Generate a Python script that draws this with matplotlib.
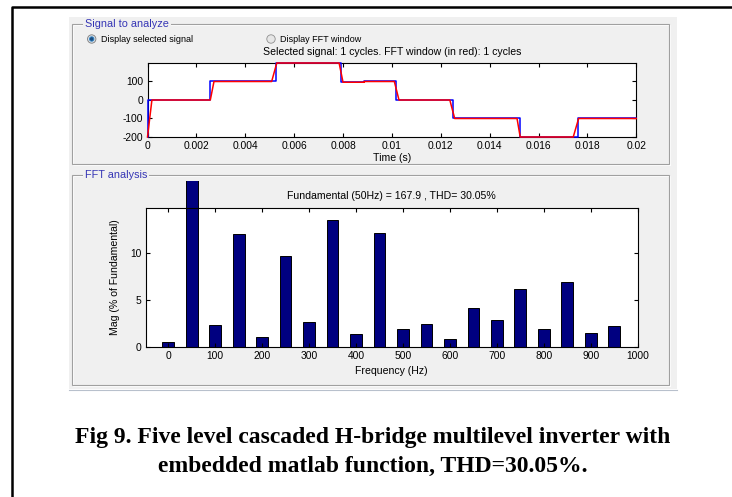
import numpy as np
import matplotlib.pyplot as plt
from matplotlib.patches import Rectangle, Circle
from matplotlib.lines import Line2D
from matplotlib.transforms import Affine2D

plt.rcParams['font.family'] = ['Liberation Sans', 'DejaVu Sans']
plt.rcParams['axes.unicode_minus'] = False

W, H = 732, 497

# Selected signal (blue, steps) and FFT window (red)
sig_t = [0, 0.00004, 0.00257, 0.00526, 0.00791, 0.00887, 0.01016, 0.01251, 0.01525, 0.0176, 0.02]
sig_v = [-200, 0, 100, 200, 96, 100, 0, -100, -200, -100, -100]

win_t = [0, 0.00018, 0.00257, 0.00272, 0.00508, 0.00529, 0.00784, 0.0080, 0.00887, 0.00887,
         0.0101, 0.01029, 0.01237, 0.01257, 0.01512, 0.01525, 0.01742, 0.01764, 0.02]
win_v = [-200, 0, 0, 100, 100, 200, 200, 96, 96, 100,
         100, 0, 0, -100, -100, -200, -200, -100, -100]

time_ticks = [0, 0.002, 0.004, 0.006, 0.008, 0.01, 0.012, 0.014, 0.016, 0.018, 0.02]
time_labels = ['0', '0.002', '0.004', '0.006', '0.008', '0.01', '0.012', '0.014', '0.016', '0.018', '0.02']

# FFT harmonics (% of fundamental)
freqs = [0, 50, 100, 150, 200, 250, 300, 350, 400, 450,
         500, 550, 600, 650, 700, 750, 800, 850, 900, 950]
mags = [0.6, 100, 2.39, 12.04, 1.09, 9.72, 2.71, 13.45, 1.37, 12.1,
        1.96, 2.44, 0.92, 4.12, 2.85, 6.23, 1.97, 6.97, 1.48, 2.25]

fig = plt.figure(figsize=(W / 100, H / 100), dpi=100)
fig.patch.set_facecolor('white')

# pixel coordinates (origin top left)
px = Affine2D().scale(1 / W, -1 / H).translate(0, 1) + fig.transFigure

def fax(l, t, r, b):
    return [l / W, 1 - b / H, (r - l) / W, (b - t) / H]

# outer frame
fig.add_artist(Line2D([12, 12, 732], [497, 7, 7], color='black', lw=1.8, transform=px))

# grey window background
fig.add_artist(Rectangle((69, 17), 608, 372, transform=px, facecolor='#f0f0f0',
                         edgecolor='none', zorder=-10))
fig.add_artist(Line2D([69, 677], [389.5, 389.5], color='#b8c0cc', lw=0.8, transform=px, zorder=-9))

# panels
for (x0, y0, x1, y1) in [(72, 24, 669, 164), (72, 175, 669, 385)]:
    fig.add_artist(Rectangle((x0 + 1, y0 + 1), x1 - x0, y1 - y0, transform=px,
                             facecolor='none', edgecolor='white', lw=0.8, zorder=-8))
    fig.add_artist(Rectangle((x0, y0), x1 - x0, y1 - y0, transform=px,
                             facecolor='none', edgecolor='#a0a0a0', lw=0.8, zorder=-7))

panel_kw = dict(transform=px, fontsize=7.8, color='#3535b5', va='center', ha='left',
                bbox=dict(facecolor='#f0f0f0', edgecolor='none', pad=1.2))
fig.text(85, 24, 'Signal to analyze', **panel_kw)
fig.text(85, 175, 'FFT analysis', **panel_kw)

# radio buttons
fig.add_artist(Circle((91.7, 39), 4.2, transform=px, facecolor='#d8dde4', edgecolor='#7d7d7d', lw=0.6))
fig.add_artist(Circle((91.7, 39), 2.2, transform=px, facecolor='#1c4d80', edgecolor='#2f86c8', lw=0.6))
fig.add_artist(Circle((271, 39), 4.2, transform=px, facecolor='#e6e6e6', edgecolor='#8f8f8f', lw=0.6))
fig.text(101, 39, 'Display selected signal', transform=px, fontsize=6.5, va='center')
fig.text(280, 39, 'Display FFT window', transform=px, fontsize=6.5, va='center')

tick_kw = dict(direction='in', length=3, width=0.8, top=True, right=True, labelsize=7.4, pad=3)

# signal axes
ax1 = fig.add_axes(fax(147.5, 63, 636.3, 137))
ax1.plot(sig_t, sig_v, color='blue', lw=1.1, drawstyle='steps-post', zorder=3, clip_on=False)
ax1.plot(win_t, win_v, color='red', lw=1.1, zorder=4, clip_on=False)
ax1.set_xlim(0, 0.02)
ax1.set_ylim(-200, 200)
ax1.set_xticks(time_ticks)
ax1.set_xticklabels(time_labels)
ax1.set_yticks([-200, -100, 0, 100])
ax1.tick_params(**tick_kw)
ax1.set_xlabel('Time (s)', fontsize=7.6, labelpad=1.5)
ax1.set_title('Selected signal: 1 cycles. FFT window (in red): 1 cycles', fontsize=7.6, pad=5.5)
for s in ax1.spines.values():
    s.set_linewidth(0.8)

# FFT axes
ax2 = fig.add_axes(fax(145.7, 207.7, 637.7, 347.3))
bars = ax2.bar(freqs, mags, width=25, color='#000080', edgecolor='black', lw=0.7)
clip = Rectangle((60, 181), 620, 200, transform=px)
for b in bars:
    b.set_clip_path(clip)
ax2.set_xlim(-48, 1000)
ax2.set_ylim(0, 14.8)
ax2.set_xticks(range(0, 1001, 100))
ax2.set_yticks([0, 5, 10])
ax2.tick_params(**tick_kw)
ax2.set_xlabel('Frequency (Hz)', fontsize=7.6, labelpad=3)
ax2.set_ylabel('Mag (% of Fundamental)', fontsize=7.6, labelpad=7)
ax2.set_title('Fundamental (50Hz) = 167.9 , THD= 30.05%', fontsize=7.6, pad=6.3)
for s in ax2.spines.values():
    s.set_linewidth(0.8)

# caption
cap_kw = dict(transform=px, ha='center', va='center', fontsize=17, fontweight='bold',
              family=['Liberation Serif', 'DejaVu Serif'])
fig.text(373, 438, 'Fig 9. Five level cascaded H-bridge multilevel inverter with', **cap_kw)
fig.text(373, 466, 'embedded matlab function, THD=30.05%.', **cap_kw)

fig.savefig('out.png', dpi=100)
